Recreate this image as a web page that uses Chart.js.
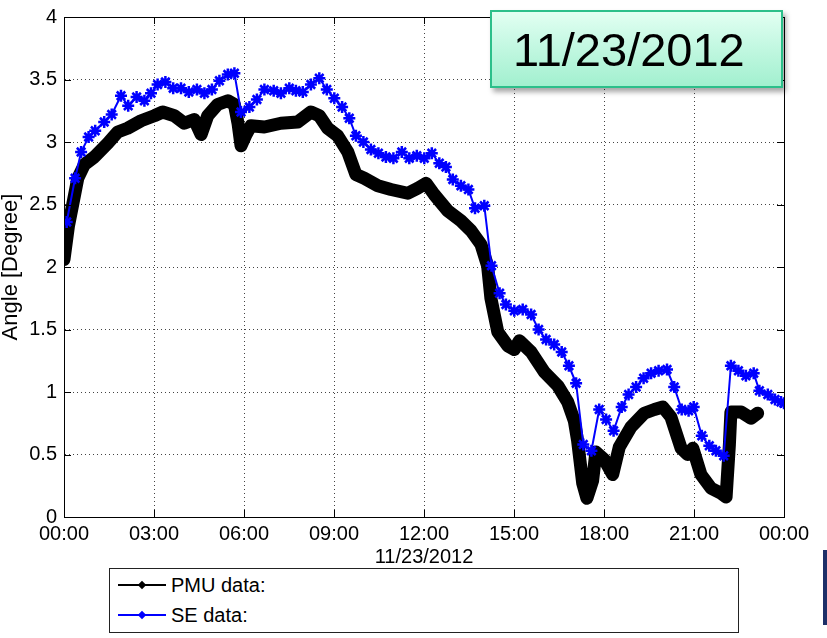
<!DOCTYPE html>
<html>
<head>
<meta charset="utf-8">
<script src="https://cdn.jsdelivr.net/npm/chart.js@4.4.1/dist/chart.umd.min.js"></script>
<style>
  html, body { margin: 0; padding: 0; background: #fff; }
  #wrap { position: relative; width: 827px; height: 638px; overflow: hidden; font-family: "Liberation Sans", Arial, sans-serif; }
  #chart { position: absolute; left: 0; top: 0; }
  #titlebox {
    position: absolute; left: 490px; top: 10px; width: 289px; height: 74px;
    background: linear-gradient(to bottom, #e2fff2 0%, #c4f8e2 45%, #a2f0cf 100%);
    border: 2px solid #2cbf8a;
    box-shadow: 3px 4px 5px rgba(0,0,0,0.35);
  }
  #titlebox span {
    position: absolute; left: 21px; top: 10px; font-size: 47px; line-height: 56px; color: #000;
    font-family: "Liberation Sans", Arial, sans-serif;
  }
  #legend {
    position: absolute; left: 109px; top: 568px; width: 628px; height: 63px;
    border: 1.5px solid #222; background: #fff;
  }
  .row { position: absolute; left: 0; height: 30px; width: 100%; }
  .row .ln { position: absolute; left: 8px; width: 48px; height: 2px; top: 14px; }
  .row .mk { position: absolute; left: 29px; top: 12px; width: 6px; height: 6px; transform: rotate(45deg); }
  .row .tx { position: absolute; left: 61px; top: 3px; font-size: 20px; line-height: 24px; color: #000; }
  #navy { position: absolute; left: 823px; top: 550px; width: 4px; height: 75px; background: #1d2f68; }
</style>
</head>
<body>
<div id="wrap">
  <canvas id="chart" width="827" height="638"></canvas>
  <div id="titlebox"><span>11/23/2012</span></div>
  <div id="legend">
    <div class="row" style="top:1px"><div class="ln" style="background:#000"></div><div class="mk" style="background:#000"></div><div class="tx">PMU data:</div></div>
    <div class="row" style="top:31px"><div class="ln" style="background:#0000ff"></div><div class="mk" style="background:#0000ff"></div><div class="tx">SE data:</div></div>
  </div>
  <div id="navy"></div>
</div>
<script>
// ---- Data (hours since 00:00 on 11/23/2012, angle in degrees) ----
const pmuHours = [0.00,0.05,0.15,0.29,0.46,0.68,1.01,1.46,1.79,2.12,2.57,3.01,3.29,3.68,4.01,4.34,4.57,4.79,5.12,5.46,5.68,5.80,5.90,6.05,6.23,6.68,7.23,7.79,8.23,8.51,8.79,9.12,9.46,9.73,10.01,10.46,10.90,11.46,11.79,12.07,12.34,12.79,13.23,13.57,13.90,14.12,14.23,14.46,14.79,15.01,15.18,15.57,16.01,16.46,16.79,17.01,17.12,17.29,17.43,17.62,17.73,18.01,18.29,18.51,18.90,19.34,19.68,19.96,20.23,20.57,20.79,20.96,21.23,21.57,21.90,22.07,22.18,22.23,22.57,22.90,23.12];
const pmuValues = [2.06,2.15,2.33,2.50,2.71,2.82,2.88,2.99,3.08,3.11,3.17,3.21,3.24,3.21,3.15,3.18,3.06,3.21,3.30,3.33,3.30,3.15,2.97,3.05,3.13,3.12,3.15,3.16,3.24,3.21,3.11,3.05,2.92,2.74,2.71,2.65,2.62,2.59,2.63,2.67,2.58,2.45,2.37,2.29,2.18,2.01,1.75,1.48,1.37,1.34,1.41,1.32,1.16,1.05,0.92,0.77,0.61,0.27,0.15,0.29,0.52,0.46,0.34,0.56,0.72,0.83,0.86,0.88,0.80,0.55,0.50,0.55,0.34,0.23,0.19,0.16,0.58,0.84,0.84,0.79,0.83];

const seHours = [0.09,0.37,0.57,0.82,1.04,1.34,1.59,1.90,2.14,2.42,2.68,2.90,3.12,3.38,3.64,3.90,4.16,4.43,4.68,4.93,5.18,5.46,5.68,5.90,6.18,6.43,6.68,6.99,7.23,7.51,7.73,7.96,8.23,8.51,8.76,9.01,9.27,9.51,9.73,9.98,10.23,10.48,10.73,10.98,11.26,11.51,11.76,12.01,12.26,12.51,12.73,12.96,13.23,13.48,13.70,14.01,14.25,14.52,14.73,15.01,15.29,15.57,15.82,16.07,16.34,16.59,16.83,17.07,17.31,17.58,17.84,18.07,18.32,18.59,18.82,19.07,19.32,19.57,19.82,20.10,20.34,20.59,20.82,20.99,21.26,21.51,21.73,21.99,22.23,22.48,22.73,22.99,23.18,23.46,23.70,23.90,24.00];
const seValues = [2.36,2.71,2.92,3.04,3.09,3.16,3.22,3.37,3.29,3.36,3.33,3.39,3.46,3.48,3.43,3.43,3.40,3.42,3.39,3.42,3.49,3.54,3.55,3.24,3.28,3.34,3.42,3.41,3.39,3.43,3.41,3.40,3.46,3.51,3.42,3.35,3.28,3.19,3.05,3.00,2.94,2.91,2.88,2.87,2.92,2.87,2.89,2.87,2.91,2.83,2.80,2.70,2.65,2.62,2.47,2.49,2.01,1.79,1.70,1.65,1.66,1.62,1.50,1.42,1.38,1.32,1.21,1.07,0.58,0.53,0.86,0.78,0.69,0.88,0.98,1.04,1.11,1.15,1.17,1.18,1.04,0.86,0.85,0.88,0.65,0.57,0.53,0.49,1.21,1.17,1.13,1.15,1.01,0.98,0.94,0.92,0.91];

const xTickHours = [0,3,6,9,12,15,18,21,24];
const xTickLabels = ['00:00','03:00','06:00','09:00','12:00','15:00','18:00','21:00','00:00'];
const yTicks = [0,0.5,1,1.5,2,2.5,3,3.5,4];
const seriesNames = ['PMU data:', 'SE data:'];
const xAxisTitle = '11/23/2012';
const yAxisTitle = 'Angle [Degree]';

const FONT = '"Liberation Sans", Arial, sans-serif';

const framePlugin = {
  id: 'matlabFrame',
  afterDatasetsDraw(chart) {
    const {ctx, chartArea: a, scales} = chart;
    ctx.save();
    ctx.strokeStyle = '#000';
    ctx.lineWidth = 1;
    ctx.setLineDash([]);
    ctx.strokeRect(a.left + 0.5, a.top + 0.5, a.right - a.left, a.bottom - a.top);
    const tl = 7;
    ctx.beginPath();
    xTickHours.forEach(h => {
      const px = Math.round(scales.x.getPixelForValue(h)) + 0.5;
      ctx.moveTo(px, a.bottom); ctx.lineTo(px, a.bottom - tl);
      ctx.moveTo(px, a.top); ctx.lineTo(px, a.top + tl);
    });
    yTicks.forEach(v => {
      const py = Math.round(scales.y.getPixelForValue(v)) + 0.5;
      ctx.moveTo(a.left, py); ctx.lineTo(a.left + tl, py);
      ctx.moveTo(a.right, py); ctx.lineTo(a.right - tl, py);
    });
    ctx.stroke();
    ctx.restore();
  }
};

new Chart(document.getElementById('chart'), {
  type: 'line',
  data: {
    datasets: [
      {
        label: seriesNames[1],
        data: seHours.map((h, i) => ({x: h, y: seValues[i]})),
        borderColor: '#0000ff',
        backgroundColor: '#0000ff',
        borderWidth: 2,
        pointStyle: 'star',
        pointRadius: 6,
        pointBorderWidth: 2.5,
        pointBorderColor: '#0000ff',
        tension: 0,
        order: 0
      },
      {
        label: seriesNames[0],
        data: pmuHours.map((h, i) => ({x: h, y: pmuValues[i]})),
        borderColor: '#000',
        backgroundColor: '#000',
        borderWidth: 13,
        borderJoinStyle: 'round',
        borderCapStyle: 'round',
        pointRadius: 0,
        tension: 0,
        order: 1
      }
    ]
  },
  options: {
    responsive: false,
    animation: false,
    devicePixelRatio: 1,
    layout: { padding: { left: 0, top: 10, right: 43, bottom: 71 } },
    plugins: { legend: { display: false }, tooltip: { enabled: false } },
    scales: {
      x: {
        type: 'linear', min: 0, max: 24,
        afterBuildTicks: s => { s.ticks = xTickHours.map(v => ({value: v})); },
        afterFit: s => { s.height = 50; },
        ticks: {
          color: '#000', padding: 5, maxRotation: 0, autoSkip: false,
          font: { family: FONT, size: 20 },
          callback: (v, i) => xTickLabels[i]
        },
        grid: { color: '#444', lineWidth: 1, drawTicks: false },
        border: { display: true, color: '#000', width: 1, dash: [1, 3] },
        title: { display: true, text: xAxisTitle, color: '#000', font: { family: FONT, size: 20, lineHeight: 1 }, padding: 0 }
      },
      y: {
        type: 'linear', min: 0, max: 4,
        afterBuildTicks: s => { s.ticks = yTicks.map(v => ({value: v})); },
        afterFit: s => { s.width = 64; },
        ticks: {
          color: '#000', padding: 7,
          font: { family: FONT, size: 20, lineHeight: 1 },
          callback: v => String(v)
        },
        grid: { color: '#444', lineWidth: 1, drawTicks: false },
        border: { display: true, color: '#000', width: 1, dash: [1, 3] },
        title: { display: true, text: yAxisTitle, color: '#000', font: { family: FONT, size: 22, lineHeight: 1 }, padding: 0 }
      }
    }
  },
  plugins: [framePlugin]
});
</script>
</body>
</html>
